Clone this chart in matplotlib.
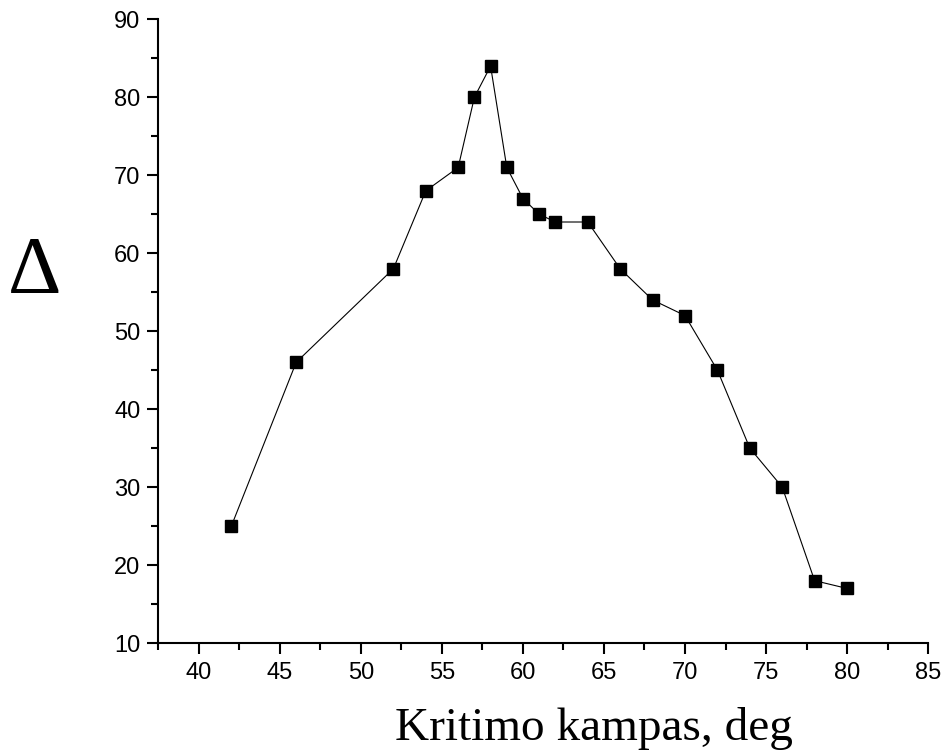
import matplotlib.pyplot as plt
from matplotlib.ticker import MultipleLocator

# data
angle = [42, 46, 52, 54, 56, 57, 58, 59, 60, 61, 62, 64, 66, 68, 70, 72, 74, 76, 78, 80]
delta = [25, 46, 58, 68, 71, 80, 84, 71, 67, 65, 64, 64, 58, 54, 52, 45, 35, 30, 18, 17]

fig = plt.figure(figsize=(9.41, 7.51), dpi=100)
ax = fig.add_axes([0.1684, 0.1438, 0.8178, 0.8305])

ax.plot(angle, delta, color="black", linewidth=0.8, marker="s",
        markersize=8.5, markerfacecolor="black", markeredgecolor="black")

ax.set_xlim(37.5, 85)
ax.set_ylim(10, 90)
ax.xaxis.set_major_locator(MultipleLocator(5))
ax.xaxis.set_minor_locator(MultipleLocator(2.5))
ax.yaxis.set_major_locator(MultipleLocator(10))
ax.yaxis.set_minor_locator(MultipleLocator(5))

ax.spines["top"].set_visible(False)
ax.spines["right"].set_visible(False)
for s in ("left", "bottom"):
    ax.spines[s].set_linewidth(1.5)

ax.tick_params(which="major", direction="out", length=8, width=1.5, labelsize=17)
ax.tick_params(axis="x", which="major", pad=6)
ax.tick_params(axis="y", which="major", pad=5)
ax.tick_params(which="minor", direction="out", length=5, width=1.5)
for lab in ax.get_xticklabels() + ax.get_yticklabels():
    lab.set_family("Liberation Sans")

fig.text(0.4198, 0.0147, "Kritimo kampas, deg", family="Liberation Serif",
         fontsize=34, ha="left", va="baseline")
fig.text(0.037, 0.636, "\u0394", family="Liberation Serif", fontsize=60,
         ha="center", va="center")

fig.savefig("out.png", dpi=100)
